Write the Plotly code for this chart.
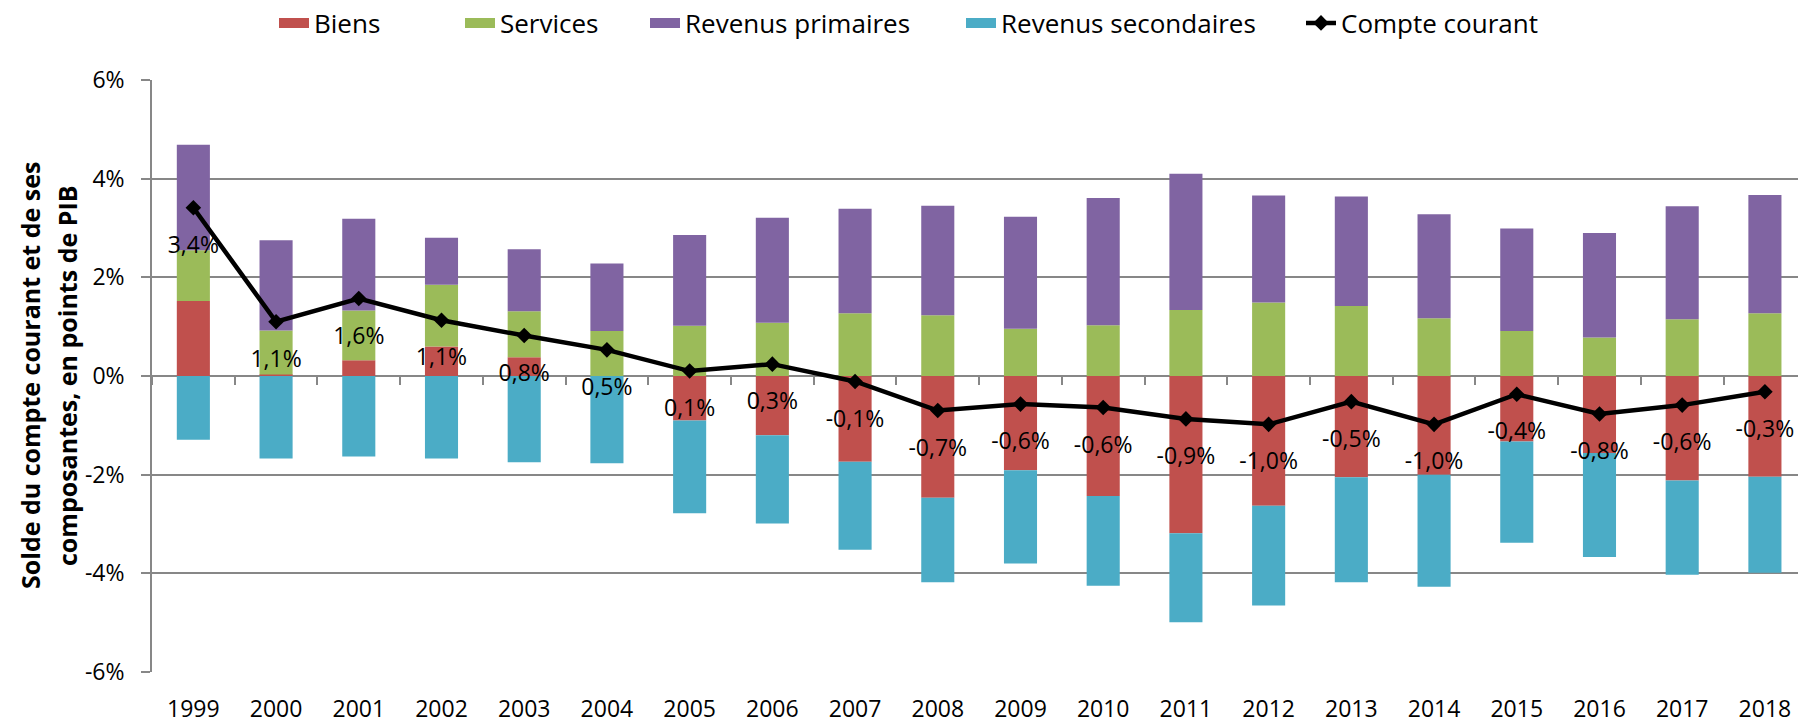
import plotly.graph_objects as go

years = [str(y) for y in range(1999, 2019)]
biens = [1.52, 0.03, 0.32, 0.60, 0.38, 0.00, -0.90, -1.20, -1.74, -2.47,
         -1.91, -2.43, -3.19, -2.63, -2.05, -2.00, -1.33, -1.56, -2.12, -2.04]
services = [1.03, 0.89, 1.01, 1.25, 0.93, 0.91, 1.02, 1.08, 1.27, 1.23,
            0.96, 1.03, 1.34, 1.49, 1.42, 1.17, 0.91, 0.78, 1.15, 1.27]
rev_prim = [2.14, 1.83, 1.86, 0.95, 1.26, 1.37, 1.84, 2.13, 2.12, 2.22,
            2.27, 2.58, 2.76, 2.17, 2.22, 2.11, 2.08, 2.12, 2.29, 2.40]
rev_sec = [-1.29, -1.67, -1.63, -1.67, -1.75, -1.77, -1.88, -1.79, -1.78, -1.71,
           -1.89, -1.82, -1.80, -2.02, -2.13, -2.27, -2.05, -2.11, -1.91, -1.95]
compte = [3.41, 1.10, 1.57, 1.13, 0.82, 0.53, 0.10, 0.24, -0.11, -0.70,
          -0.57, -0.64, -0.87, -0.98, -0.52, -0.98, -0.37, -0.77, -0.59, -0.32]
labels = ["3,4%", "1,1%", "1,6%", "1,1%", "0,8%", "0,5%", "0,1%", "0,3%", "-0,1%", "-0,7%",
          "-0,6%", "-0,6%", "-0,9%", "-1,0%", "-0,5%", "-1,0%", "-0,4%", "-0,8%", "-0,6%", "-0,3%"]
ytick_vals = [-6, -4, -2, 0, 2, 4, 6]
ytick_text = ["-6%", "-4%", "-2%", "0%", "2%", "4%", "6%"]

FONT = "Open Sans, sans-serif"
GRID = "#878787"
W, H = 1798, 724

series = [("Biens", biens, "#C0504D"),
          ("Services", services, "#9BBB59"),
          ("Revenus primaires", rev_prim, "#8064A2"),
          ("Revenus secondaires", rev_sec, "#4BACC6")]
legend_ids = ["legend", "legend2", "legend3", "legend4", "legend5"]
legend_text_x = [316, 502, 687, 1003, 1343]   # where each legend text starts (px)

fig = go.Figure()
for (name, vals, col), lg in zip(series, legend_ids):
    fig.add_bar(x=years, y=vals, name=name, legendgroup=name, showlegend=False,
                marker=dict(color=col, line=dict(width=0)))
    # legend proxy giving a wide rectangular swatch
    fig.add_scatter(x=[years[0]], y=[None], name=name, legendgroup=name, legend=lg,
                    mode="lines", line=dict(color=col, width=18), hoverinfo="skip")

fig.add_scatter(x=years, y=compte, name="Compte courant", legend=legend_ids[4],
                legendgroup="cc", mode="lines+markers",
                line=dict(color="black", width=4.5),
                marker=dict(symbol="diamond", size=12, color="black"))

# data labels under each point (transparent large marker sets the offset)
fig.add_scatter(x=years, y=compte, mode="markers+text", text=labels,
                textposition="bottom center", legendgroup="cc", showlegend=False,
                textfont=dict(family=FONT, size=23, color="black"),
                marker=dict(size=43, opacity=0), hoverinfo="skip", cliponaxis=False)

# invisible helper trace for the tick marks on the zero line
fig.add_scatter(x=years, y=compte, xaxis="x2", mode="markers", marker=dict(opacity=0),
                showlegend=False, hoverinfo="skip")

annotations = [
    dict(text="<b>Solde du compte courant et de ses</b>", xref="paper", yref="paper",
         x=(30 - 152) / (W - 152), y=0.5, xanchor="center", yanchor="middle",
         textangle=-90, showarrow=False, font=dict(family=FONT, size=25)),
    dict(text="<b>composantes, en points de PIB</b>", xref="paper", yref="paper",
         x=(67 - 152) / (W - 152), y=0.5, xanchor="center", yanchor="middle",
         textangle=-90, showarrow=False, font=dict(family=FONT, size=25)),
]

layout_legends = {}
for lg, tx in zip(legend_ids, legend_text_x):
    layout_legends[lg] = dict(orientation="h", xref="container", yref="container",
                              x=(tx - 42) / W, xanchor="left", y=1 - 23 / H, yanchor="middle",
                              font=dict(family=FONT, size=26, color="black"),
                              itemwidth=30, bgcolor="rgba(0,0,0,0)")

fig.update_layout(
    width=W, height=H,
    margin=dict(l=152, r=0, t=80, b=47),
    barmode="relative", bargap=0.6,
    plot_bgcolor="white", paper_bgcolor="white",
    font=dict(family=FONT, size=23, color="black"),
    showlegend=True,
    xaxis=dict(type="category", range=[-0.5, 19.4], showgrid=False, showline=False,
               zeroline=False, ticks="", ticklabelstandoff=21, tickfont=dict(size=23)),
    xaxis2=dict(type="category", overlaying="x", anchor="free", position=0.5,
                side="bottom", tickson="boundaries", ticks="outside", ticklen=8,
                tickcolor=GRID, tickwidth=1.7, showticklabels=False,
                showgrid=False, showline=False, zeroline=False,
                range=[-0.5, 19.4]),
    yaxis=dict(range=[-6, 6], tickvals=ytick_vals, ticktext=ytick_text,
               showgrid=True, gridcolor=GRID, gridwidth=1.7,
               showline=True, linecolor=GRID, linewidth=1.7,
               ticks="outside", ticklen=9, tickcolor=GRID, tickwidth=1.7,
               zeroline=False, tickfont=dict(size=23), ticklabelstandoff=12),
    annotations=annotations,
    **layout_legends,
)

fig.write_html("out.html", config={"displayModeBar": False},
               post_script="document.body.style.margin='0px';")
